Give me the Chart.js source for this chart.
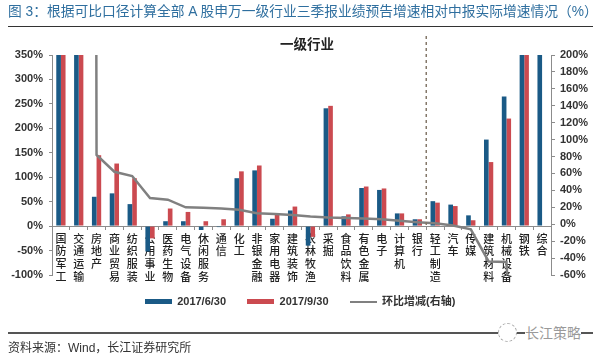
<!DOCTYPE html>
<html lang="zh-CN">
<head>
    <meta charset="UTF-8">
    <title>图 3</title>
    <script src="https://cdn.jsdelivr.net/npm/chart.js"></script>
    <style>
        body {
            margin: 0;
            background: #ffffff;
            font-family: "Liberation Sans", "Noto Sans CJK SC", sans-serif;
        }
        #page {
            position: relative;
            width: 600px;
            height: 358px;
            overflow: hidden;
        }
        canvas {
            position: absolute;
            left: 0;
            top: 0;
        }
        .title {
            position: absolute;
            left: 8px;
            top: 2px;
            font-size: 13.75px;
            line-height: 20px;
            color: #2f6f9f;
            white-space: nowrap;
        }
        .rule {
            position: absolute;
            left: 8px;
            width: 585px;
        }
        .inner-title {
            position: absolute;
            left: 280px;
            top: 36px;
            font-size: 13.5px;
            line-height: 17px;
            font-weight: bold;
            color: #222222;
        }
        .source {
            position: absolute;
            left: 8px;
            top: 339px;
            font-size: 12px;
            line-height: 18px;
            color: #333333;
            white-space: nowrap;
        }
        .mark {
            position: absolute;
            left: 525px;
            top: 324px;
            width: 56px;
            background: #ffffff;
            font-size: 14px;
            line-height: 18px;
            color: #9a9a9a;
            white-space: nowrap;
        }
        .logo {
            position: absolute;
            left: 498px;
            top: 323px;
            width: 17px;
            height: 17px;
            border: 1px dashed #aaaaaa;
            border-radius: 50%;
            background: #ffffff;
        }
    </style>
</head>
<body>
    <div id="page">
        <canvas id="chart" width="600" height="358"></canvas>
        <div class="title">图 3：根据可比口径计算全部 A 股申万一级行业三季报业绩预告增速相对中报实际增速情况（%）</div>
        <div class="rule" style="top:26px;height:1px;background:#333333"></div>
        <div class="inner-title">一级行业</div>
        <div class="rule" style="top:332px;height:2px;background:#555555"></div>
        <div class="logo"></div>
        <div class="mark">长江策略</div>
        <div class="source">资料来源：Wind，长江证券研究所</div>
    </div>

    <script>
        const categories = ['国防军工', '交通运输', '房地产', '商业贸易', '纺织服装', '公用事业', '医药生物', '电气设备', '休闲服务', '通信',
            '化工', '非银金融', '家用电器', '建筑装饰', '农林牧渔', '采掘', '食品饮料', '有色金属', '电子', '计算机',
            '银行', '轻工制造', '汽车', '传媒', '建筑材料', '机械设备', '钢铁', '综合'];
        const june = [350, 350, 60, 67, 45, -52, 10, 10, -8, -2,
            98, 114, 15, 32, -40, 241, 20, 78, 74, 26,
            14, 51, 44, 22, 177, 265, 350, 350];
        const september = [350, 350, 145, 128, 98, -25, 36, 29, 10, 14,
            112, 124, 26, 40, -22, 246, 24, 81, 77, 26,
            14, 48, 41, 12, 131, 220, 350, null];
        // 环比增减: 前两个和钢铁超出坐标轴范围, 只能估计
        const change = [null, 10000, 82, 62, 57, 31, 29, 20, 19.5, 18.7,
            17, 13, 12, 11, 9, 8, 7.5, 6.7, 5.8, 4,
            2.3, 1.2, -1.5, -6, -44, -44.5, -400, null];
        const seriesNames = ['2017/6/30', '2017/9/30', '环比增减(右轴)'];
        const dividerAfter = '银行';

        const blue = '#1a5a86';
        const red = '#cb4a50';
        const gray = '#808080';
        const axisColor = '#8c8c8c';
        const tickFont = { family: '"Liberation Sans", "Noto Sans CJK SC"', size: 11, weight: 'bold' };

        function swatch(color, h) {
            const c = document.createElement('canvas');
            c.width = 27;
            c.height = h;
            const g = c.getContext('2d');
            g.fillStyle = color;
            g.fillRect(0, 0, 27, h);
            return c;
        }
        const swatches = [swatch(blue, 5), swatch(red, 5), swatch(gray, 2)];

        // 银行和轻工制造之间的虚线
        const dividerPlugin = {
            id: 'divider',
            afterDatasetsDraw(chart) {
                const x = chart.scales.x;
                const i = categories.indexOf(dividerAfter);
                const px = (x.getPixelForTick(i) + x.getPixelForTick(i + 1)) / 2;
                const g = chart.ctx;
                g.save();
                g.strokeStyle = '#84786a';
                g.lineWidth = 1.5;
                g.setLineDash([3, 3]);
                g.beginPath();
                g.moveTo(px, 36);
                g.lineTo(px, chart.scales.y.getPixelForValue(0));
                g.stroke();
                g.restore();
            }
        };

        new Chart(document.getElementById('chart'), {
            type: 'bar',
            data: {
                labels: categories.map(s => Array.from(s)),
                datasets: [
                    { label: seriesNames[0], data: june, backgroundColor: blue, yAxisID: 'y', order: 2 },
                    { label: seriesNames[1], data: september, backgroundColor: red, yAxisID: 'y', order: 2 },
                    {
                        type: 'line',
                        label: seriesNames[2],
                        data: change,
                        borderColor: gray,
                        borderWidth: 2.5,
                        pointRadius: 0,
                        tension: 0,
                        yAxisID: 'y2',
                        order: 1
                    }
                ]
            },
            options: {
                responsive: false,
                animation: false,
                categoryPercentage: 0.52,
                barPercentage: 1,
                layout: { padding: { top: 55, bottom: 41, left: 0, right: 0 } },
                plugins: {
                    tooltip: { enabled: false },
                    legend: {
                        position: 'bottom',
                        labels: {
                            usePointStyle: true,
                            pointStyleWidth: 27,
                            padding: 21,
                            color: '#333333',
                            font: tickFont,
                            generateLabels: () => seriesNames.map((text, i) => ({
                                text,
                                pointStyle: swatches[i],
                                datasetIndex: i,
                                fontColor: '#333333',
                                lineWidth: 0
                            }))
                        }
                    }
                },
                scales: {
                    x: {
                        position: { y: 0 },
                        offset: true,
                        grid: { display: true, drawOnChartArea: false, offset: true, tickLength: 3, color: axisColor },
                        border: { color: axisColor },
                        ticks: {
                            autoSkip: false,
                            maxRotation: 0,
                            padding: 3,
                            color: '#222222',
                            font: { family: '"Noto Sans CJK SC"', size: 11, weight: '500', lineHeight: 1.15 }
                        }
                    },
                    y: {
                        position: 'left',
                        min: -100,
                        max: 350,
                        afterFit: s => { s.width = 52; },
                        grid: { drawOnChartArea: false, tickLength: 3, color: axisColor },
                        border: { color: axisColor },
                        ticks: { stepSize: 50, padding: 6, color: '#333333', font: tickFont, callback: v => v + '%' }
                    },
                    y2: {
                        position: 'right',
                        min: -60,
                        max: 200,
                        afterFit: s => { s.width = 49; },
                        grid: { drawOnChartArea: false, tickLength: 4, color: axisColor },
                        border: { color: axisColor },
                        ticks: { stepSize: 20, padding: 5, color: '#333333', font: tickFont, callback: v => v + '%' }
                    }
                }
            },
            plugins: [dividerPlugin]
        });
    </script>
</body>
</html>
